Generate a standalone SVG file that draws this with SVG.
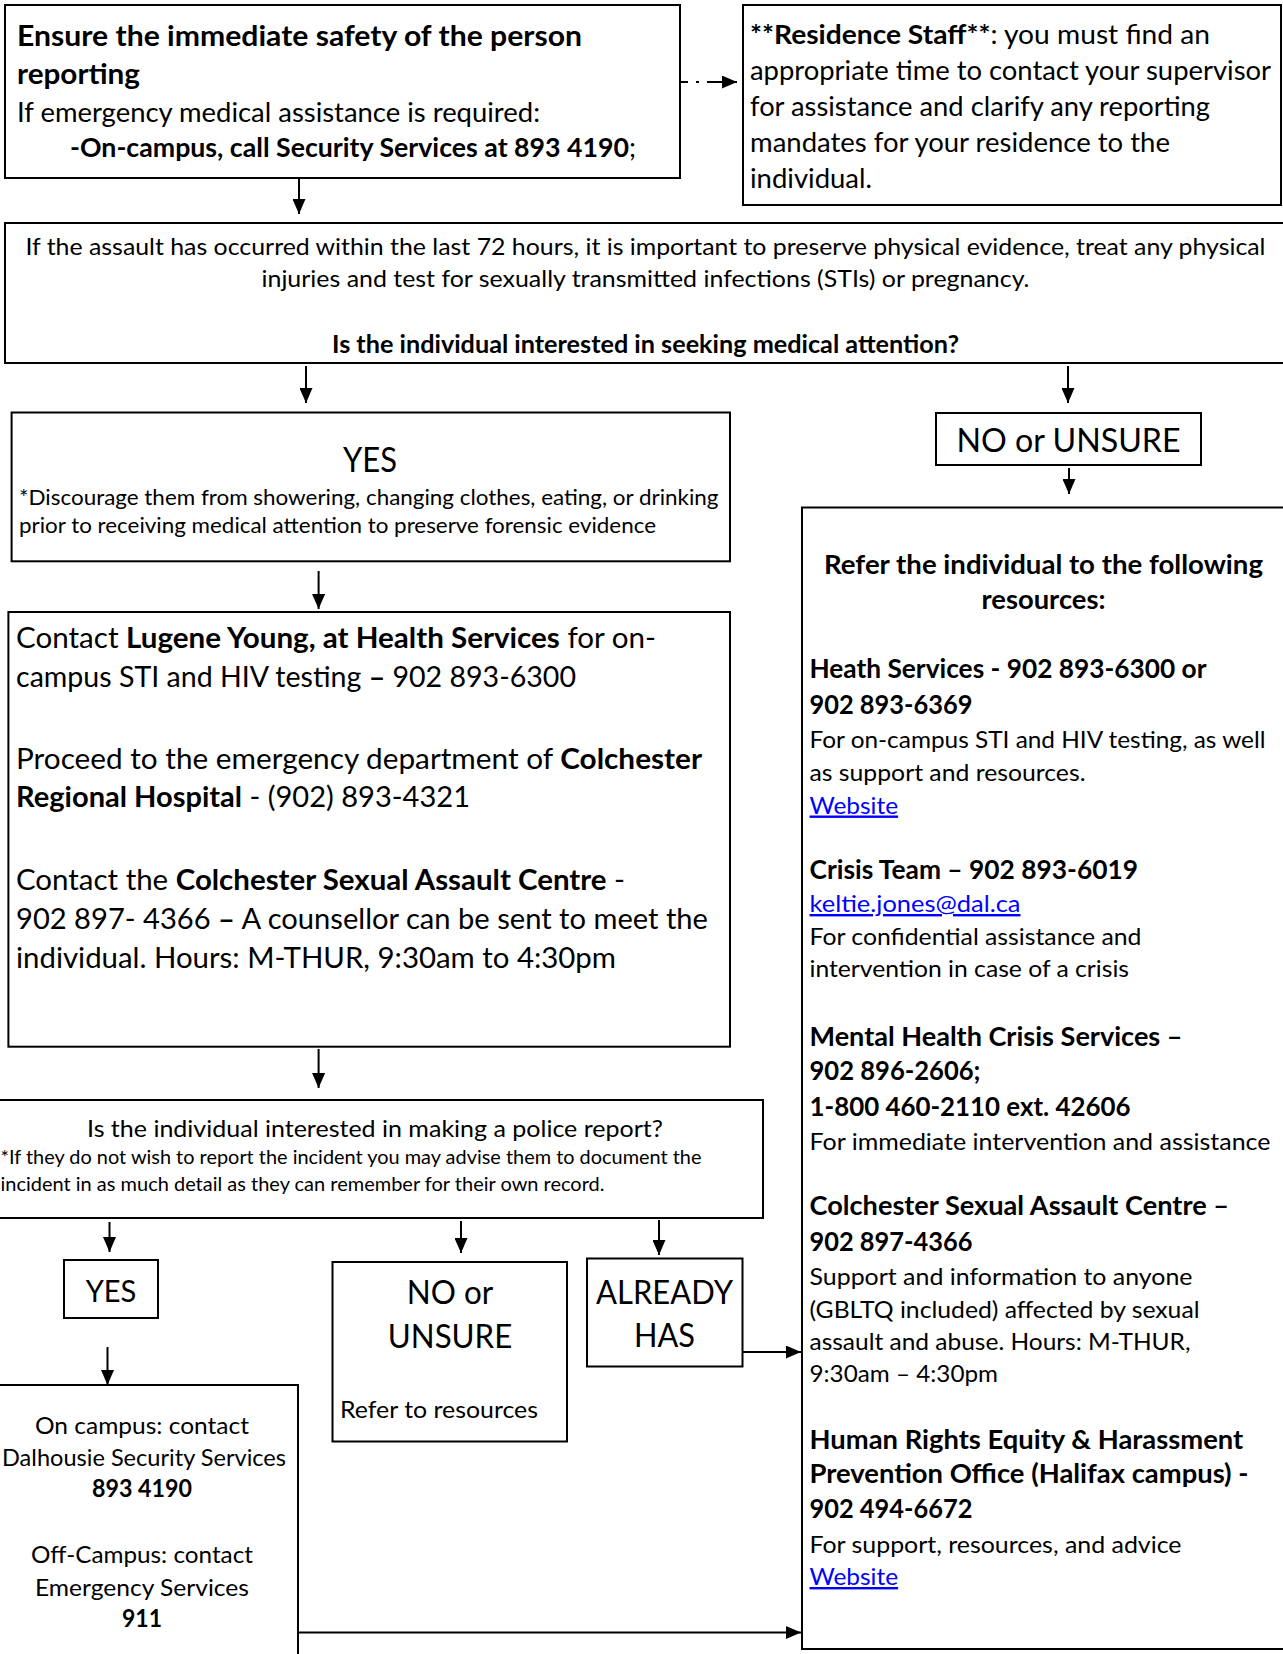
<svg xmlns="http://www.w3.org/2000/svg" width="1283" height="1654" viewBox="0 0 1283 1654">
<style>
.box{fill:#fff;stroke:#000;stroke-width:2}
text{font-family:Lato,"Liberation Sans",sans-serif;fill:#000}
.b{font-weight:bold}
.link{fill:#0000ff;text-decoration:underline}
.conn{stroke:#000;stroke-width:2;fill:none;marker-end:url(#ah)}
.dash{stroke-dasharray:8 8 3 8 30}
.mid{text-anchor:middle}
</style>
<defs>
<marker id="ah" viewBox="0 0 15 13" refX="15" refY="6.5" markerWidth="15" markerHeight="13" markerUnits="userSpaceOnUse" orient="auto">
<path d="M0,0 L15,6.5 L0,13 z" fill="#000"/>
</marker>
</defs>
<rect width="1283" height="1654" fill="#fff"/>

<g id="connectors">
<path class="conn" d="M299,178 V214"/>
<path class="conn dash" d="M680,82 H737"/>
<path class="conn" d="M306,366 V403"/>
<path class="conn" d="M1068,366 V403"/>
<path class="conn" d="M1069,468 V494"/>
<path class="conn" d="M318.6,571 V609"/>
<path class="conn" d="M318.6,1049 V1088"/>
<path class="conn" d="M109.5,1222 V1252"/>
<path class="conn" d="M461,1221 V1253"/>
<path class="conn" d="M659,1220 V1255"/>
<path class="conn" d="M107.5,1347 V1385"/>
<path class="conn" d="M742,1352 H801"/>
<path class="conn" d="M298,1632.5 H801"/>
</g>

<g id="n1-safety">
<rect class="box" x="5" y="5" width="675" height="173"/>
<text class="b" x="17" y="46" font-size="29" textLength="565" lengthAdjust="spacingAndGlyphs">Ensure the immediate safety of the person</text>
<text class="b" x="17" y="84" font-size="29" textLength="123" lengthAdjust="spacingAndGlyphs">reporting</text>
<text x="17" y="122" font-size="26" textLength="523" lengthAdjust="spacingAndGlyphs">If emergency medical assistance is required:</text>
<text x="70" y="157" font-size="26" textLength="566" lengthAdjust="spacingAndGlyphs"><tspan class="b">-On-campus, call Security Services at 893 4190</tspan>;</text>
</g>

<g id="n2-residence">
<rect class="box" x="743" y="5" width="538" height="200"/>
<text x="750" y="44" font-size="26.3" textLength="460" lengthAdjust="spacingAndGlyphs"><tspan class="b">**Residence Staff**</tspan>: you must find an</text>
<text x="750" y="80" font-size="26.3" textLength="521" lengthAdjust="spacingAndGlyphs">appropriate time to contact your supervisor</text>
<text x="750" y="116" font-size="26.3" textLength="460" lengthAdjust="spacingAndGlyphs">for assistance and clarify any reporting</text>
<text x="750" y="152" font-size="26.3" textLength="420" lengthAdjust="spacingAndGlyphs">mandates for your residence to the</text>
<text x="750" y="188" font-size="26.3" textLength="122" lengthAdjust="spacingAndGlyphs">individual.</text>
</g>

<g id="n3-72hours">
<rect class="box" x="5" y="223" width="1290" height="140"/>
<text class="mid" x="645.5" y="255" font-size="24" textLength="1240" lengthAdjust="spacingAndGlyphs">If the assault has occurred within the last 72 hours, it is important to preserve physical evidence, treat any physical</text>
<text class="mid" x="645.5" y="287" font-size="24" textLength="768" lengthAdjust="spacingAndGlyphs">injuries and test for sexually transmitted infections (STIs) or pregnancy.</text>
<text class="mid b" x="645.5" y="353" font-size="24" textLength="627" lengthAdjust="spacingAndGlyphs">Is the individual interested in seeking medical attention?</text>
</g>

<g id="n4-yes-medical">
<rect class="box" x="11.6" y="412.5" width="718.4" height="148.8"/>
<text class="mid" x="370" y="472" font-size="33.8" textLength="54" lengthAdjust="spacingAndGlyphs">YES</text>
<text x="19" y="505" font-size="21.6" textLength="699.5" lengthAdjust="spacingAndGlyphs">*Discourage them from showering, changing clothes, eating, or drinking</text>
<text x="19" y="533" font-size="21.6" textLength="637" lengthAdjust="spacingAndGlyphs">prior to receiving medical attention to preserve forensic evidence</text>
</g>

<g id="n5-no-medical">
<rect class="box" x="936" y="413" width="265" height="52"/>
<text class="mid" x="1068.5" y="452" font-size="33.3" textLength="224" lengthAdjust="spacingAndGlyphs">NO or UNSURE</text>
</g>

<g id="n6-contacts">
<rect class="box" x="8.4" y="612" width="721.6" height="434.7"/>
<text x="16" y="648" font-size="28.8" textLength="640" lengthAdjust="spacingAndGlyphs">Contact <tspan class="b">Lugene Young, at Health Services</tspan> for on-</text>
<text x="16" y="687" font-size="28.8" textLength="560" lengthAdjust="spacingAndGlyphs">campus STI and HIV testing <tspan class="b">–</tspan> 902 893-6300</text>
<text x="16" y="769" font-size="28.8" textLength="686" lengthAdjust="spacingAndGlyphs">Proceed to the emergency department of <tspan class="b">Colchester</tspan></text>
<text x="16" y="807" font-size="28.8" textLength="454" lengthAdjust="spacingAndGlyphs"><tspan class="b">Regional Hospital</tspan> - (902) 893-4321</text>
<text x="16" y="889.5" font-size="28.8" textLength="609" lengthAdjust="spacingAndGlyphs">Contact the <tspan class="b">Colchester Sexual Assault Centre</tspan> -</text>
<text x="16" y="928.5" font-size="28.8" textLength="692" lengthAdjust="spacingAndGlyphs">902 897- 4366 <tspan class="b">–</tspan> A counsellor can be sent to meet the</text>
<text x="16" y="967.6" font-size="28.8" textLength="600" lengthAdjust="spacingAndGlyphs">individual. Hours: M-THUR, 9:30am to 4:30pm</text>
</g>

<g id="n7-resources">
<rect class="box" x="802" y="507.5" width="500" height="1141.5"/>
<text class="mid b" x="1043.5" y="574" font-size="26.3" textLength="439" lengthAdjust="spacingAndGlyphs">Refer the individual to the following</text>
<text class="mid b" x="1043.5" y="609" font-size="26.3" textLength="124" lengthAdjust="spacingAndGlyphs">resources:</text>
<text class="b" x="809.5" y="677.5" font-size="26.3" textLength="397" lengthAdjust="spacingAndGlyphs">Heath Services - 902 893-6300 or</text>
<text class="b" x="809.5" y="713.5" font-size="26.3" textLength="163" lengthAdjust="spacingAndGlyphs">902 893-6369</text>
<text x="809.5" y="748" font-size="24" textLength="456" lengthAdjust="spacingAndGlyphs">For on-campus STI and HIV testing, as well</text>
<text x="809.5" y="781" font-size="24" textLength="276" lengthAdjust="spacingAndGlyphs">as support and resources.</text>
<text class="link" x="809.5" y="813.5" font-size="24" textLength="88.6" lengthAdjust="spacingAndGlyphs">Website</text>
<text class="b" x="809.5" y="878.5" font-size="26.3" textLength="328.5" lengthAdjust="spacingAndGlyphs">Crisis Team – 902 893-6019</text>
<text class="link" x="809.5" y="912" font-size="24" textLength="211" lengthAdjust="spacingAndGlyphs">keltie.jones@dal.ca</text>
<text x="809.5" y="945" font-size="24" textLength="332" lengthAdjust="spacingAndGlyphs">For confidential assistance and</text>
<text x="809.5" y="977" font-size="24" textLength="319.5" lengthAdjust="spacingAndGlyphs">intervention in case of a crisis</text>
<text class="b" x="809.5" y="1045.5" font-size="26.3" textLength="373" lengthAdjust="spacingAndGlyphs">Mental Health Crisis Services –</text>
<text class="b" x="809.5" y="1080" font-size="26.3" textLength="171" lengthAdjust="spacingAndGlyphs">902 896-2606;</text>
<text class="b" x="809.5" y="1116" font-size="26.3" textLength="321" lengthAdjust="spacingAndGlyphs">1-800 460-2110 ext. 42606</text>
<text x="809.5" y="1150" font-size="24" textLength="461" lengthAdjust="spacingAndGlyphs">For immediate intervention and assistance</text>
<text class="b" x="809.5" y="1215" font-size="26.3" textLength="419.5" lengthAdjust="spacingAndGlyphs">Colchester Sexual Assault Centre –</text>
<text class="b" x="809.5" y="1251" font-size="26.3" textLength="163" lengthAdjust="spacingAndGlyphs">902 897-4366</text>
<text x="809.5" y="1285" font-size="24" textLength="383" lengthAdjust="spacingAndGlyphs">Support and information to anyone</text>
<text x="809.5" y="1318" font-size="24" textLength="390" lengthAdjust="spacingAndGlyphs">(GBLTQ included) affected by sexual</text>
<text x="809.5" y="1349.5" font-size="24" textLength="381" lengthAdjust="spacingAndGlyphs">assault and abuse. Hours: M-THUR,</text>
<text x="809.5" y="1382" font-size="24" textLength="188.5" lengthAdjust="spacingAndGlyphs">9:30am – 4:30pm</text>
<text class="b" x="809.5" y="1448.5" font-size="26.3" textLength="433.7" lengthAdjust="spacingAndGlyphs">Human Rights Equity &amp; Harassment</text>
<text class="b" x="809.5" y="1483" font-size="26.3" textLength="439" lengthAdjust="spacingAndGlyphs">Prevention Office (Halifax campus) -</text>
<text class="b" x="809.5" y="1518" font-size="26.3" textLength="163" lengthAdjust="spacingAndGlyphs">902 494-6672</text>
<text x="809.5" y="1553" font-size="24" textLength="372" lengthAdjust="spacingAndGlyphs">For support, resources, and advice</text>
<text class="link" x="809.5" y="1585" font-size="24" textLength="88.6" lengthAdjust="spacingAndGlyphs">Website</text>
</g>

<g id="n8-police">
<rect class="box" x="-10" y="1100" width="773" height="118"/>
<text class="mid" x="375" y="1137" font-size="24" textLength="576" lengthAdjust="spacingAndGlyphs">Is the individual interested in making a police report?</text>
<text x="0.5" y="1164" font-size="19.4" textLength="701" lengthAdjust="spacingAndGlyphs">*If they do not wish to report the incident you may advise them to document the</text>
<text x="0.5" y="1191" font-size="19.4" textLength="604" lengthAdjust="spacingAndGlyphs">incident in as much detail as they can remember for their own record.</text>
</g>

<g id="n9-yes-police">
<rect class="box" x="64" y="1260" width="94" height="58"/>
<text class="mid" x="111" y="1301.5" font-size="31.5" textLength="50.6" lengthAdjust="spacingAndGlyphs">YES</text>
</g>

<g id="n10-no-police">
<rect class="box" x="332.5" y="1262" width="234.5" height="179.5"/>
<text class="mid" x="450" y="1303.5" font-size="32.4" textLength="86.5" lengthAdjust="spacingAndGlyphs">NO or</text>
<text class="mid" x="450" y="1347.5" font-size="32.4" textLength="124.5" lengthAdjust="spacingAndGlyphs">UNSURE</text>
<text x="340" y="1417.5" font-size="24" textLength="198" lengthAdjust="spacingAndGlyphs">Refer to resources</text>
</g>

<g id="n11-already">
<rect class="box" x="587" y="1258.5" width="155.5" height="108"/>
<text class="mid" x="664.5" y="1304" font-size="33" textLength="137" lengthAdjust="spacingAndGlyphs">ALREADY</text>
<text class="mid" x="664.5" y="1347" font-size="33" textLength="61" lengthAdjust="spacingAndGlyphs">HAS</text>
</g>

<g id="n12-security">
<rect class="box" x="-10" y="1385" width="308" height="300"/>
<text class="mid" x="142" y="1434" font-size="23.8" textLength="214" lengthAdjust="spacingAndGlyphs">On campus: contact</text>
<text class="mid" x="144" y="1466" font-size="23.8" textLength="284" lengthAdjust="spacingAndGlyphs">Dalhousie Security Services</text>
<text class="mid b" x="142" y="1497" font-size="23.8" textLength="100" lengthAdjust="spacingAndGlyphs">893 4190</text>
<text class="mid" x="142" y="1563" font-size="23.8" textLength="222" lengthAdjust="spacingAndGlyphs">Off-Campus: contact</text>
<text class="mid" x="142" y="1596" font-size="23.8" textLength="214" lengthAdjust="spacingAndGlyphs">Emergency Services</text>
<text class="mid b" x="142" y="1627" font-size="23.8" textLength="40" lengthAdjust="spacingAndGlyphs">911</text>
</g>
</svg>
